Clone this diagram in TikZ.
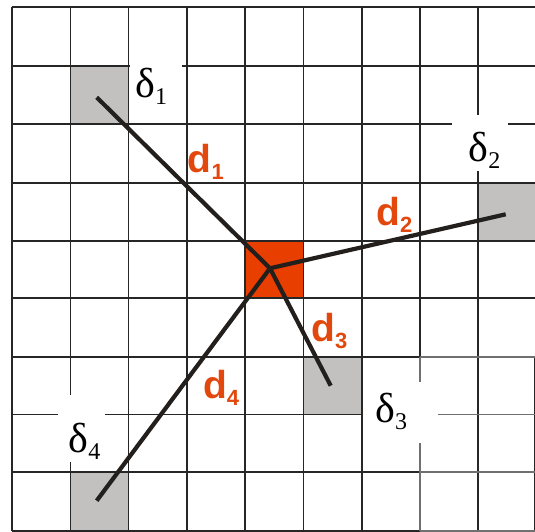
\documentclass[tikz,border=0pt]{standalone}
\usepackage{fontspec}
\setmainfont{Liberation Serif}
\newfontfamily\dfont{Liberation Sans}
\definecolor{gridc}{HTML}{262626}
\definecolor{gridl}{HTML}{707070}
\definecolor{cellgray}{HTML}{C2C1BF}
\definecolor{cellred}{HTML}{E83E00}
\definecolor{labred}{HTML}{E2480E}
\definecolor{conn}{HTML}{231F1C}
\tikzset{
  cellbox/.style={inner sep=0pt, outer sep=0pt, minimum width=58.2pt, minimum height=57.8pt, draw=none},
  graycell/.style={cellbox, fill=cellgray},
  redcell/.style={cellbox, fill=cellred},
  gline/.style={draw=gridc, line width=1.6pt},
  lline/.style={draw=gridl, line width=1.6pt},
  blank/.style={fill=white, draw=none},
  connector/.style={draw=conn, line width=4.2pt},
  dlabel/.style={anchor=base west, inner sep=0pt, text=labred, font=\dfont\bfseries\fontsize{39}{40}\selectfont},
  deltalabel/.style={anchor=base west, inner sep=0pt, text=black, font=\fontsize{42}{44}\selectfont},
}
\newcommand{\subd}[1]{\raisebox{-7pt}{\fontsize{22}{22}\selectfont #1}}
\newcommand{\subdelta}[1]{\raisebox{-7pt}{\fontsize{24}{26}\selectfont #1}}
\begin{document}
\begin{tikzpicture}[x=1pt,y=-1pt]
\useasboundingbox (0,0) rectangle (535,532);
% coloured cells
\node[graycell] (c1) at (99.3,95.0) {};
\node[graycell] (c2) at (506.2,211.7) {};
\node[redcell]  (c0) at (274.2,269.2) {};
\node[graycell] (c3) at (332.5,385.5) {};
\node[graycell] (c4) at (99.3,501.2) {};
% grid
\foreach \x in {11.7,70.3,128.3,186.7,245,303.3,361.7,420,477.7}
  \draw[gline] (\x,7.3) -- (\x,530.7);
\draw[gline] (534.4,355.5) -- (534.4,530.7);
\foreach \y in {7.3,66,124,182.7,240.7,297.7,356.7,414.3,471.7,530.7}
  \draw[gline] (11.7,\y) -- (535,\y);
% lighter lines lower right
\draw[lline] (420,356.7) -- (420,530.7);
\draw[lline] (420,356.7) -- (535,356.7);
\draw[lline] (420,414.3) -- (535,414.3);
\draw[lline] (420,471.7) -- (535,471.7);
\draw[lline] (420,530.7) -- (535,530.7);
% white label backgrounds
\fill[blank] (129.5,59) rectangle (182,112);
\fill[blank] (452,115) rectangle (508,171);
\fill[blank] (363,382) rectangle (438,443);
\fill[blank] (58.3,395) rectangle (105,462);
% connectors
\coordinate (hub) at (270,268.3);
\coordinate (e1) at (96.7,97.3);
\coordinate (e2) at (505.7,214.3);
\coordinate (e3) at (330.7,385.7);
\coordinate (e4) at (96.7,500.7);
\draw[connector] (hub) -- (e1);
\draw[connector] (hub) -- (e2);
\draw[connector] (hub) -- (e3);
\draw[connector] (hub) -- (e4);
% delta labels
\node[deltalabel] (l1) at (135.2,97.3) {δ\subdelta{1}};
\node[deltalabel] (l2) at (468.5,161) {δ\subdelta{2}};
\node[deltalabel] (l3) at (375.2,422) {δ\subdelta{3}};
\node[deltalabel] (l4) at (68.5,452) {δ\subdelta{4}};
% distance labels
\node[dlabel] (d1) at (187.5,172.3) {d\subd{1}};
\node[dlabel] (d2) at (376.2,225) {d\subd{2}};
\node[dlabel] (d3) at (311.2,341) {d\subd{3}};
\node[dlabel] (d4) at (202.8,398.3) {d\subd{4}};
\end{tikzpicture}
\end{document}
